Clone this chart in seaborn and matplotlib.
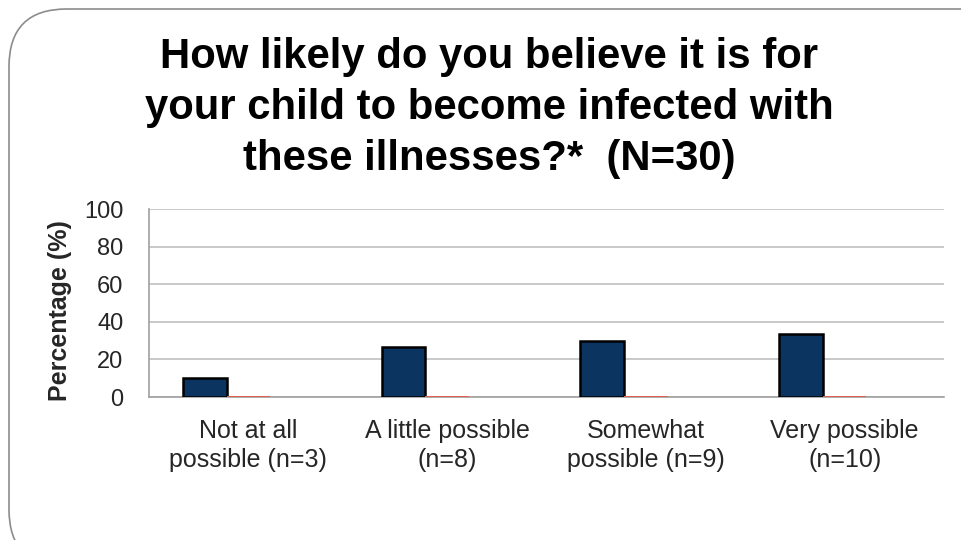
import matplotlib
matplotlib.use("Agg")
import matplotlib.pyplot as plt
from matplotlib.patches import FancyBboxPatch
import seaborn as sns
import pandas as pd

categories = ["Not at all\npossible (n=3)", "A little possible\n(n=8)",
              "Somewhat\npossible (n=9)", "Very possible\n(n=10)"]
series_names = ["Series 1", "Series 2", "Series 3"]
series1 = [10.0, 26.7, 30.0, 33.3]
series2 = [0.5, 0.5, 0.5, 0.5]
series3 = [0.0, 0.0, 0.0, 0.0]
yticks = [0, 20, 40, 60, 80, 100]

sns.set_theme(style="white")
plt.rcParams["font.family"] = ["Liberation Sans", "DejaVu Sans"]

rows = []
for name, vals in zip(series_names, [series1, series2, series3]):
    for c, v in zip(categories, vals):
        rows.append({"cat": c, "series": name, "value": v})
df = pd.DataFrame(rows)

fig = plt.figure(figsize=(9.61, 5.40), dpi=100)
fig.patch.set_facecolor("white")

# rounded frame around the chart
frame = FancyBboxPatch((9 / 961, -0.05), 1.2, 1.0 - 9 / 540 + 0.05,
                       boxstyle="round,pad=0,rounding_size=0.06",
                       transform=fig.transFigure, facecolor="none",
                       edgecolor="#8c8c8c", linewidth=1.2, zorder=-1,
                       mutation_aspect=961 / 540)
fig.patches.append(frame)

ax = fig.add_axes([149 / 961, 1 - 397 / 540, (944 - 149) / 961, (397 - 209) / 540])
ax.set_facecolor("none")

palette = {"Series 1": "#0b3560", "Series 2": "#e06050", "Series 3": "#ffffff"}
sns.barplot(data=df, x="cat", y="value", hue="series", palette=palette,
            width=0.66, ax=ax, legend=False, saturation=1)

for patch, name in zip(ax.patches, [s for s in series_names for _ in categories]):
    if name == "Series 1":
        patch.set_edgecolor("black")
        patch.set_linewidth(1.8)
    else:
        patch.set_edgecolor("none")
    patch.set_zorder(3)

ax.set_ylim(0, 100)
ax.set_xlim(-0.5, 3.5)
ax.set_yticks(yticks)
ax.set_yticklabels([str(t) for t in yticks], fontsize=17)
ax.tick_params(axis="x", labelsize=18, length=0, pad=16)
for lbl in ax.get_xticklabels():
    lbl.set_linespacing(1.27)
ax.tick_params(axis="y", length=0, pad=18.5)
ax.yaxis.grid(True, color="#c0c0c0", linewidth=1.2, zorder=0)
ax.set_axisbelow(True)
for s in ["top", "right"]:
    ax.spines[s].set_visible(False)
ax.spines["left"].set_color("#a0a0a0")
ax.spines["bottom"].set_color("#a0a0a0")
ax.spines["left"].set_linewidth(1.2)
ax.spines["bottom"].set_linewidth(1.2)
ax.set_xlabel("")
ax.set_ylabel("Percentage (%)", fontsize=18, fontweight="bold")
ax.yaxis.set_label_coords(-0.097, 0.46)

fig.text(0.509, 1 - 108 / 540,
         "How likely do you believe it is for\nyour child to become infected with\nthese illnesses?*  (N=30)",
         ha="center", va="center", fontsize=30.2, fontweight="bold",
         linespacing=1.34, color="black")

fig.savefig("out.png", dpi=100)
